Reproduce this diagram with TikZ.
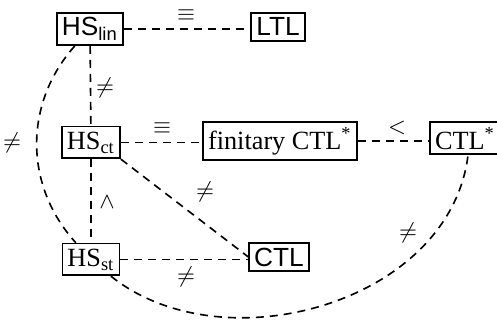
\documentclass[tikz,border=0pt]{standalone}
\usepackage{fontspec}
\setmainfont{Liberation Serif}
\newfontfamily\sansf{Liberation Sans}
\begin{document}
\begin{tikzpicture}[x=0.4pt,y=0.4pt,
  box/.style={draw,line width=0.7pt,inner xsep=2pt,inner ysep=2pt,anchor=base,font=\fontsize{10.5}{12}\selectfont},
  sbox/.style={box,font=\fontsize{10.5}{12}\selectfont\sansf},
  rel/.style={font=\fontsize{9}{11}\selectfont,inner sep=0pt},
  conn/.style={line width=0.65pt,dash pattern=on 3.2pt off 2.4pt}]
\useasboundingbox (0,0) rectangle (497,320);
% nodes
\node[sbox] (hslin) at (90,284) {HS\textsubscript{lin}};
\node[sbox] (ltl) at (278,284) {LTL};
\node[box] (hsct) at (91,171) {HS\textsubscript{ct}};
\node[box] (fctl) at (280,171) {finitary CTL\textsuperscript{*}};
\node[box] (ctls) at (465,171) {CTL\textsuperscript{*}};
\node[box] (hsst) at (91,54) {HS\textsubscript{st}};
\node[sbox] (ctl) at (279,54) {CTL};
% connectors
\draw[conn] (hslin.east) -- (hslin.east -| ltl.west);
\draw[conn] (hslin) -- (hsct);
\draw[conn] (hsct.east) -- (hsct.east -| fctl.west);
\draw[conn] (fctl.east) -- (fctl.east -| ctls.west);
\draw[conn] (hsct) -- (hsst);
\draw[conn] (hsct.south east) -- (ctl.west);
\draw[conn] (hsst.east) -- (hsst.east -| ctl.west);
\draw[conn] (hslin) to[bend right=42] (hsst);
\draw[conn] (hsst.-40) .. controls +(112,-90) and +(-18,-148) .. (ctls.-80);
% labels
\node[rel] (l1) at (186,305) {$\equiv$};
\node[rel] (l2) at (105,232) {$\neq$};
\node[rel] (l3) at (162,192) {$\equiv$};
\node[rel] (l4) at (397,192) {$<$};
\node[rel] (l5) at (12,177) {$\neq$};
\node[rel] (l6) at (107,118) {$\wedge$};
\node[rel] (l7) at (205,128) {$\neq$};
\node[rel] (l8) at (186,43) {$\neq$};
\node[rel] (l9) at (408,87) {$\neq$};
\end{tikzpicture}
\end{document}
